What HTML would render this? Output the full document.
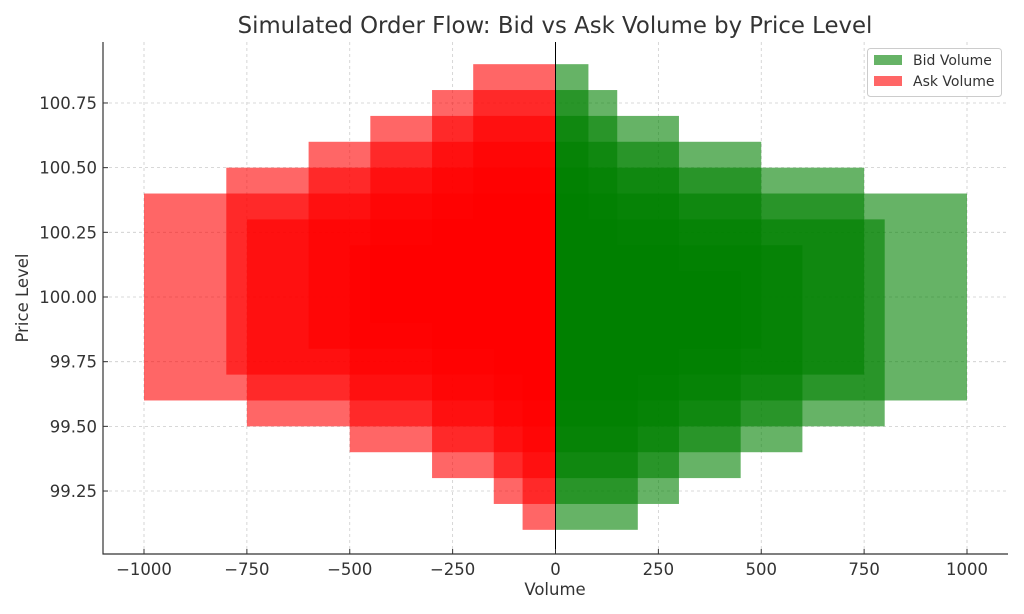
<!DOCTYPE html>
<html><head><meta charset="utf-8"><style>
html,body{margin:0;padding:0;background:#fff;}
svg{display:block;font-family:"DejaVu Sans","Liberation Sans",sans-serif;}
</style></head><body>
<svg id="s" width="1024" height="614" xmlns="http://www.w3.org/2000/svg">
<rect width="1024" height="614" fill="#fff"/>
<g id="grid"></g>
<g id="bars"></g>
<line x1="555.5" y1="42" x2="555.5" y2="554" stroke="#000" stroke-width="1"/>
<g id="axes"></g>
<text x="555" y="33" font-size="22.8" fill="#333" text-anchor="middle">Simulated Order Flow: Bid vs Ask Volume by Price Level</text>
<text x="555" y="595" font-size="16.5" fill="#333" text-anchor="middle">Volume</text>
<text x="0" y="0" font-size="16.5" fill="#333" text-anchor="middle" transform="translate(28,298) rotate(-90)">Price Level</text>
<g>
<rect x="867.5" y="48.5" width="134" height="48" rx="3" fill="#fff" fill-opacity="0.8" stroke="#ccc"/>
<rect x="874" y="55" width="28" height="10" fill="#008000" fill-opacity="0.6"/>
<text x="913" y="65" font-size="14" fill="#333">Bid Volume</text>
<rect x="874" y="76" width="28" height="10" fill="#ff0000" fill-opacity="0.6"/>
<text x="913" y="86" font-size="14" fill="#333">Ask Volume</text>
</g>
</svg>
<script>
var NS="http://www.w3.org/2000/svg";
function X(v){return 555.5+v*0.4115;}
function Y(p){return 297-(p-100)*258.7;}
function el(t,a,par){var e=document.createElementNS(NS,t);for(var k in a)e.setAttribute(k,a[k]);document.getElementById(par).appendChild(e);return e;}
var xt=[-1000,-750,-500,-250,0,250,500,750,1000];
var yt=[99.25,99.5,99.75,100,100.25,100.5,100.75];
xt.forEach(function(v){var x=X(v);
 el("line",{x1:x,x2:x,y1:42,y2:554,stroke:"#ccc","stroke-dasharray":"3,3","stroke-width":0.8},"grid");
 el("line",{x1:x,x2:x,y1:554,y2:549,stroke:"#333"},"axes");
 var t=el("text",{x:x,y:575,"font-size":16.5,fill:"#333","text-anchor":"middle"},"axes");t.textContent=(v<0?"\u2212"+(-v):""+v);});
yt.forEach(function(p){var y=Y(p);
 el("line",{x1:103,x2:1008,y1:y,y2:y,stroke:"#ccc","stroke-dasharray":"3,3","stroke-width":0.8},"grid");
 el("line",{x1:103,x2:108,y1:y,y2:y,stroke:"#333"},"axes");
 var t=el("text",{x:97,y:y+6,"font-size":16.5,fill:"#333","text-anchor":"end"},"axes");t.textContent=p.toFixed(2);});
el("line",{x1:103,x2:103,y1:42,y2:554.5,stroke:"#333","stroke-width":1.2},"axes");
el("line",{x1:102.5,x2:1008,y1:554,y2:554,stroke:"#333","stroke-width":1.2},"axes");
var bid={99.5:200,99.6:300,99.7:450,99.8:600,99.9:800,100.0:1000,100.1:750,100.2:500,100.3:300,100.4:150,100.5:80};
var ask={100.5:200,100.4:300,100.3:450,100.2:600,100.1:800,100.0:1000,99.9:750,99.8:500,99.7:300,99.6:150,99.5:80};
for(var k in bid){var p=+k;el("rect",{x:X(0),y:Y(p+0.4),width:X(bid[k])-X(0),height:Y(p-0.4)-Y(p+0.4),fill:"#008000","fill-opacity":0.6},"bars");}
for(var k in ask){var p=+k;el("rect",{x:X(-ask[k]),y:Y(p+0.4),width:X(0)-X(-ask[k]),height:Y(p-0.4)-Y(p+0.4),fill:"#ff0000","fill-opacity":0.6},"bars");}
</script>
</body></html>
